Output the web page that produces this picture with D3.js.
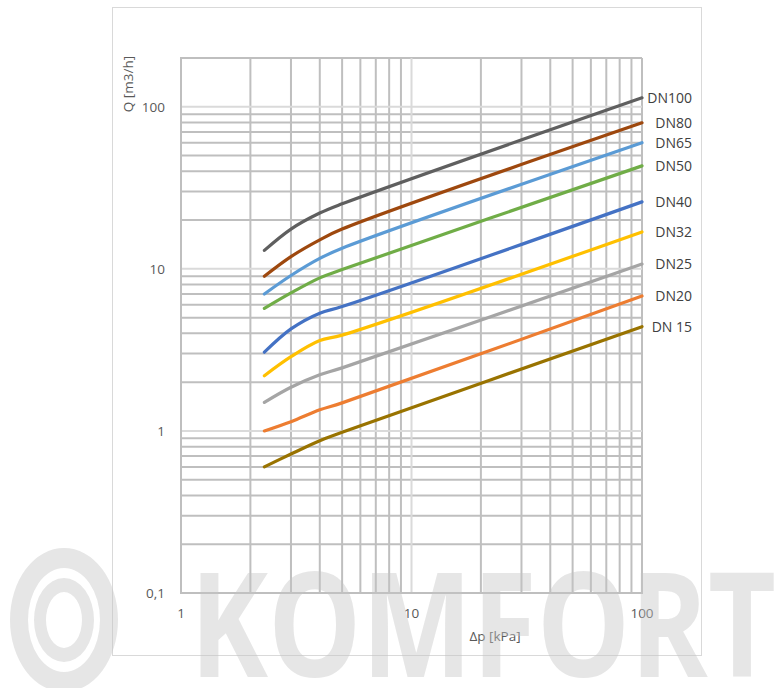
<!DOCTYPE html>
<html>
<head>
<meta charset="utf-8">
<script src="https://cdn.jsdelivr.net/npm/d3@7"></script>
<style>
  html, body { margin: 0; padding: 0; background: #ffffff; }
  svg { display: block; }
  text { font-family: "Open Sans", "Liberation Sans", sans-serif; }
</style>
</head>
<body>
<svg id="chart" width="776" height="688"></svg>
<script>
// ---- data ----
const pressureDrop = [2.3, 3, 4, 5, 100];           // Δp [kPa]
const seriesNames  = ["DN100", "DN80", "DN65", "DN50", "DN40", "DN32", "DN25", "DN20", "DN 15"];
const qDN100 = [13.0, 17.6, 22.1, 25.2, 113.6];
const qDN80  = [9.0, 11.9, 15.1, 17.6, 79.6];
const qDN65  = [7.0, 9.1, 11.6, 13.4, 60.0];
const qDN50  = [5.7, 7.1, 8.8, 9.9, 43.2];
const qDN40  = [3.06, 4.26, 5.33, 5.85, 25.9];
const qDN32  = [2.19, 2.87, 3.61, 3.9, 16.9];
const qDN25  = [1.50, 1.86, 2.22, 2.45, 10.7];
const qDN20  = [1.0, 1.14, 1.35, 1.49, 6.8];
const qDN15  = [0.6, 0.72, 0.87, 0.98, 4.4];
const seriesValues = [qDN100, qDN80, qDN65, qDN50, qDN40, qDN32, qDN25, qDN20, qDN15];
const seriesColors = ["#5f5f5f", "#9e480e", "#5b9bd5", "#70ad47", "#4472c4", "#ffc000", "#a5a5a5", "#ed7d31", "#997300"];
const xTickValues = [1, 10, 100];
const xTickLabels = ["1", "10", "100"];
const yTickValues = [0.1, 1, 10, 100];
const yTickLabels = ["0,1", "1", "10", "100"];
const xTitle = "Δp  [kPa]";
const yTitle = "Q  [m3/h]";
const watermark = "KOMFORT";

// ---- layout ----
const svg = d3.select("#chart");
const plot = { left: 181, right: 642, top: 58, bottom: 593 };
const x = d3.scaleLog().domain([1, 100]).range([plot.left, plot.right]);
const y = d3.scaleLog().domain([0.1, 200]).range([plot.bottom, plot.top]);

// chart frame
svg.append("rect")
  .attr("x", 112.5).attr("y", 7.5).attr("width", 589).attr("height", 648)
  .attr("fill", "#ffffff").attr("stroke", "#d9d9d9").attr("stroke-width", 1);

// grid values
const xGrid = [];
[1, 10].forEach(d => { for (let k = 1; k <= 9; k++) xGrid.push(k * d); });
xGrid.push(100);
const yGrid = [];
[0.1, 1, 10, 100].forEach(d => { for (let k = 1; k <= 9; k++) { const v = +(k * d).toPrecision(3); if (v <= 200) yGrid.push(v); } });
yGrid.push(200);
const isMajor = v => [1, 10, 100].includes(v);

const grid = svg.append("g");
grid.selectAll(".hmin").data(yGrid.filter(v => !isMajor(v))).join("line")
  .attr("x1", plot.left).attr("x2", plot.right)
  .attr("y1", d => y(d)).attr("y2", d => y(d))
  .attr("stroke", "#bfbfbf").attr("stroke-width", 2);
grid.selectAll(".vmin").data(xGrid.filter(v => v !== 10)).join("line")
  .attr("y1", plot.top).attr("y2", plot.bottom)
  .attr("x1", d => x(d)).attr("x2", d => x(d))
  .attr("stroke", "#bfbfbf").attr("stroke-width", 2);
grid.selectAll(".hmaj").data(yGrid.filter(v => isMajor(v))).join("line")
  .attr("x1", plot.left).attr("x2", plot.right)
  .attr("y1", d => y(d)).attr("y2", d => y(d))
  .attr("stroke", "#dadada").attr("stroke-width", 2);
grid.selectAll(".vmaj").data([10]).join("line")
  .attr("y1", plot.top).attr("y2", plot.bottom)
  .attr("x1", d => x(d)).attr("x2", d => x(d))
  .attr("stroke", "#dadada").attr("stroke-width", 2);
grid.append("line").attr("x1", plot.left).attr("x2", plot.left).attr("y1", plot.top - 1).attr("y2", plot.bottom + 1)
  .attr("stroke", "#bfbfbf").attr("stroke-width", 2);
grid.append("line").attr("x1", plot.left - 1).attr("x2", plot.right + 1).attr("y1", plot.bottom).attr("y2", plot.bottom)
  .attr("stroke", "#bfbfbf").attr("stroke-width", 2);

// tick labels
svg.append("g").selectAll("text").data(yTickValues).join("text")
  .attr("x", 165).attr("y", d => y(d)).attr("dy", "0.35em")
  .attr("text-anchor", "end").attr("font-size", 13.5).attr("fill", "#595959")
  .text((d, i) => yTickLabels[i]);
svg.append("g").selectAll("text").data(xTickValues).join("text")
  .attr("x", d => x(d)).attr("y", 613).attr("dy", "0.35em")
  .attr("text-anchor", "middle").attr("font-size", 13.5).attr("fill", "#595959")
  .text((d, i) => xTickLabels[i]);

// axis titles
svg.append("text").attr("x", 495).attr("y", 636).attr("dy", "0.35em")
  .attr("text-anchor", "middle").attr("font-size", 13.5).attr("fill", "#595959").text(xTitle);
svg.append("text").attr("transform", "translate(128,84) rotate(-90)").attr("dy", "0.35em")
  .attr("text-anchor", "middle").attr("font-size", 13.5).attr("fill", "#595959").text(yTitle);

// lines (smoothed like the original)
const line = d3.line().x((d, i) => x(pressureDrop[i])).y(d => y(d)).curve(d3.curveCatmullRom.alpha(0.5));
svg.append("g").selectAll("path").data(seriesValues).join("path")
  .attr("d", d => line(d))
  .attr("fill", "none")
  .attr("stroke", (d, i) => seriesColors[i])
  .attr("stroke-width", 3.2)
  .attr("stroke-linecap", "round").attr("stroke-linejoin", "round");

// end labels
svg.append("g").selectAll("text").data(seriesValues).join("text")
  .attr("x", 692).attr("y", d => y(d[d.length - 1])).attr("dy", "0.35em")
  .attr("text-anchor", "end").attr("font-size", 14).attr("fill", "#404040")
  .text((d, i) => seriesNames[i]);

// watermark
const wm = svg.append("g").attr("opacity", 0.42).attr("fill", "#c4c4c4");
const cx = 64, cy = 620;
const ring = (rxo, ryo, rxi, ryi) => {
  const e = (rx, ry) => `M${cx - rx},${cy} a${rx},${ry} 0 1,0 ${2 * rx},0 a${rx},${ry} 0 1,0 ${-2 * rx},0 Z`;
  return e(rxo, ryo) + " " + e(rxi, ryi);
};
wm.append("path").attr("fill-rule", "evenodd").attr("d", ring(54, 72, 36, 52));
wm.append("path").attr("fill-rule", "evenodd").attr("d", ring(30, 42, 18, 28));
wm.append("text").attr("transform", "translate(190,677) scale(1,1.3)")
  .attr("font-size", 112).attr("font-weight", 700)
  .attr("textLength", 586).attr("lengthAdjust", "spacingAndGlyphs")
  .text(watermark);
</script>
</body>
</html>
